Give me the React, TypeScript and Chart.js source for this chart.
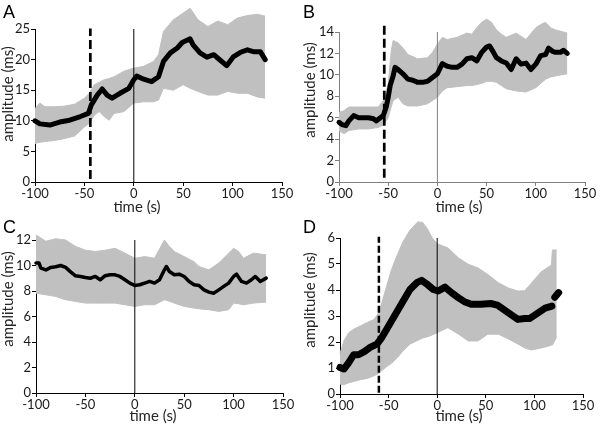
import React, { useEffect, useRef } from "react";
import { Chart, registerables } from "chart.js";

Chart.register(...registerables);
Chart.defaults.font.family = "Lato, 'Open Sans', sans-serif";

// ---------- Panel A ----------
const aMeanT = [-100, -95, -85, -75, -65, -54, -46, -43, -37, -32, -27, -22, -14, -5, 0, 3, 10, 18, 25, 30, 37, 44, 49, 57, 60, 67, 74, 81, 86, 94, 101, 108, 115, 121, 128, 133];
const aMean = [10.0, 9.5, 9.3, 9.8, 10.1, 10.7, 11.2, 12.6, 14.2, 15.2, 14.2, 13.7, 14.5, 15.3, 16.7, 17.3, 16.8, 16.4, 17.2, 19.7, 21.1, 21.9, 22.8, 23.4, 22.4, 21.1, 20.4, 20.8, 20.1, 19.0, 20.5, 21.2, 21.6, 21.3, 21.3, 20.0];
const aBandT = [-100, -95, -90, -80, -70, -60, -50, -45, -40, -35, -30, -25, -20, -10, 0, 10, 20, 25, 30, 40, 50, 57, 65, 75, 85, 95, 105, 115, 125, 133];
const aUpper = [12.0, 12.9, 12.3, 12.3, 12.4, 12.7, 13.7, 14.5, 15.9, 16.3, 16.7, 16.9, 17.2, 18.1, 18.6, 18.9, 19.7, 20.8, 24.6, 26.5, 27.6, 28.4, 26.5, 25.4, 26.3, 25.7, 26.8, 27.2, 27.4, 27.1];
const aLower = [6.3, 6.5, 6.6, 6.8, 7.1, 7.5, 9.0, 9.6, 10.9, 11.5, 10.7, 10.1, 11.2, 11.5, 12.9, 13.1, 13.1, 13.4, 15.3, 15.0, 15.9, 15.3, 14.8, 14.2, 14.2, 14.8, 14.5, 14.5, 13.9, 13.7];
const aEventT = -44;
const aEventSpan = [0.5, 25.1];

// ---------- Panel B ----------
const bMeanT = [-100, -97, -93, -90, -85, -80, -75, -70, -65, -62, -58, -55, -52, -50, -48, -45, -43, -40, -35, -30, -25, -20, -15, -10, -5, 0, 5, 10, 15, 20, 25, 30, 35, 40, 45, 50, 53, 57, 60, 65, 70, 75, 80, 85, 90, 95, 100, 105, 110, 113, 117, 120, 125, 128, 132];
const bMean = [5.57, 5.36, 5.26, 5.7, 6.2, 6.0, 6.0, 6.0, 5.9, 5.7, 6.0, 6.2, 7.0, 7.9, 9.0, 9.9, 10.7, 10.5, 10.1, 9.6, 9.5, 9.3, 9.3, 9.4, 9.75, 10.1, 11.05, 10.8, 10.7, 10.7, 11.0, 11.5, 11.6, 11.3, 12.1, 12.6, 12.7, 12.1, 11.6, 11.3, 11.1, 10.5, 11.5, 11.0, 11.1, 10.5, 11.0, 11.8, 11.9, 12.5, 12.2, 12.1, 12.1, 12.3, 12.0];
const bBandT = [-100, -95, -90, -80, -70, -60, -55, -50, -47, -45, -40, -35, -30, -20, -10, -5, 0, 5, 10, 20, 30, 35, 40, 45, 50, 55, 60, 65, 70, 80, 90, 100, 105, 110, 115, 120, 132];
const bUpper = [6.5, 6.65, 7.0, 7.0, 7.0, 7.0, 7.6, 9.1, 12.2, 13.2, 13.0, 12.5, 11.9, 11.5, 11.6, 12.1, 12.85, 13.5, 13.3, 13.5, 13.9, 13.8, 14.4, 14.9, 15.2, 14.9, 14.2, 13.8, 13.5, 13.9, 13.3, 14.4, 14.7, 14.9, 14.4, 14.2, 13.9];
const bLower = [4.8, 4.5, 4.8, 4.95, 4.95, 5.1, 5.3, 6.0, 7.0, 7.6, 7.9, 7.3, 7.1, 7.1, 7.3, 7.6, 7.9, 8.5, 8.8, 8.9, 9.0, 9.0, 9.1, 9.2, 9.4, 9.4, 9.3, 9.0, 8.7, 8.5, 8.4, 8.8, 9.2, 9.6, 9.8, 9.9, 10.1];
const bEventT = -54;
const bEventSpan = [0.4, 14.7];

// ---------- Panel C ----------
const cMeanT = [-100, -97, -95, -90, -85, -80, -75, -70, -65, -60, -55, -50, -45, -40, -35, -30, -25, -20, -15, -10, -5, 0, 5, 10, 15, 20, 25, 30, 32, 35, 40, 45, 50, 55, 60, 65, 70, 75, 80, 85, 90, 95, 100, 103, 108, 113, 118, 122, 127, 133];
const cMean = [10.2, 10.2, 9.8, 9.65, 9.85, 9.9, 10.0, 9.85, 9.5, 9.19, 9.14, 9.06, 9.0, 9.14, 8.88, 9.2, 9.27, 9.27, 9.14, 8.88, 8.62, 8.43, 8.49, 8.62, 8.75, 8.62, 8.88, 9.66, 9.92, 9.53, 9.27, 9.32, 9.14, 8.75, 8.49, 8.43, 8.09, 7.91, 7.83, 8.09, 8.36, 8.62, 9.14, 9.32, 8.75, 8.62, 8.88, 9.14, 8.75, 9.01];
const cBandT = [-100, -90, -80, -70, -60, -50, -40, -30, -20, -10, 0, 10, 20, 30, 35, 40, 50, 60, 65, 75, 85, 95, 100, 105, 110, 120, 133];
const cUpper = [12.4, 11.9, 12.1, 12.0, 11.5, 11.2, 11.1, 11.2, 11.35, 10.97, 10.57, 10.7, 10.57, 12.0, 11.5, 11.1, 10.7, 10.3, 9.92, 9.66, 10.2, 10.97, 11.35, 11.1, 10.57, 10.97, 10.84];
const cLower = [7.83, 7.7, 7.57, 7.31, 7.18, 7.05, 7.05, 7.05, 7.05, 6.92, 6.79, 6.92, 6.92, 7.31, 7.2, 7.05, 6.79, 6.66, 6.6, 6.53, 6.4, 6.53, 7.05, 7.0, 6.92, 7.05, 7.13];

// ---------- Panel D ----------
const dMeanT = [-100, -96, -91, -86, -81, -75, -69, -62, -57, -52, -47, -41, -35, -28, -21, -16, -11, -4, 1, 8, 15, 22, 28, 35, 45, 55, 62, 73, 83, 90, 95, 103, 111, 118, 119.5, 121, 125];
const dMean = [1.02, 0.96, 1.21, 1.51, 1.51, 1.63, 1.79, 1.92, 2.17, 2.49, 2.81, 3.19, 3.58, 4.02, 4.28, 4.37, 4.24, 4.02, 3.96, 4.11, 3.89, 3.70, 3.55, 3.45, 3.45, 3.48, 3.42, 3.13, 2.87, 2.9, 2.9, 3.1, 3.3, 3.38, null, 3.72, 3.9];
const dBandT = [-100, -96, -91, -86, -79, -72, -65, -60, -57, -52, -47, -41, -35, -28, -20, -15, -10, -5, 0, 11, 22, 32, 42, 52, 63, 73, 83, 90, 97, 107, 115, 117.5, 118.5, 123];
const dUpper = [1.55, 2.04, 2.36, 2.49, 2.62, 2.75, 2.87, 3.13, 3.51, 4.15, 4.79, 5.36, 5.87, 6.3, 6.62, 6.6, 6.35, 6.0, 5.78, 5.62, 5.23, 4.99, 4.85, 4.6, 4.28, 4.08, 3.96, 3.97, 4.27, 4.7, 4.9, 4.95, 5.54, 5.54];
const dLower = [0.38, 0.36, 0.43, 0.48, 0.55, 0.6, 0.7, 0.8, 0.9, 1.05, 1.18, 1.4, 1.66, 1.92, 2.06, 2.15, 2.2, 2.27, 2.36, 2.55, 2.3, 2.04, 2.04, 2.3, 2.3, 2.12, 1.92, 1.77, 1.69, 1.77, 1.85, 1.88, 1.88, 2.2];
const dEventT = -60;
const dEventSpan = [0.05, 6.05];

// ---------- shared ----------
const xTicks = { min: -100, max: 150, step: 50 };
const xTitle = "time (s)";
const yTitle = "amplitude (ms)";

type Panel = {
  letter: string;
  left: number;
  top: number;
  meanT: number[];
  mean: (number | null)[];
  bandT: number[];
  upper: number[];
  lower: number[];
  eventT: number | null;
  eventSpan: number[] | null;
  yMax: number;
  yStep: number;
  yW: number;
  padR: number;
  padT: number;
  xH: number;
  xTitlePos: number[];
  yTitlePos: number[];
  axisColor: string;
  zeroColor: string;
  meanWidth: number;
  dash: number[];
  dashWidth: number;
};

const panels: Panel[] = [
  { letter: "A", left: 0, top: 0, meanT: aMeanT, mean: aMean, bandT: aBandT, upper: aUpper, lower: aLower, eventT: aEventT, eventSpan: aEventSpan, yMax: 25, yStep: 5, yW: 35, padR: 18, padT: 29, xH: 32, xTitlePos: [137, 207], yTitlePos: [8, 94], axisColor: "#000", zeroColor: "#000", meanWidth: 5, dash: [9, 4], dashWidth: 2.7 },
  { letter: "B", left: 300, top: 0, meanT: bMeanT, mean: bMean, bandT: bBandT, upper: bUpper, lower: bLower, eventT: bEventT, eventSpan: bEventSpan, yMax: 14, yStep: 2, yW: 39, padR: 15, padT: 32, xH: 32, xTitlePos: [159, 207], yTitlePos: [10, 90], axisColor: "#808080", zeroColor: "#808080", meanWidth: 5, dash: [9, 4], dashWidth: 2.7 },
  { letter: "C", left: 0, top: 215, meanT: cMeanT, mean: cMean, bandT: cBandT, upper: cUpper, lower: cLower, eventT: null, eventSpan: null, yMax: 12, yStep: 2, yW: 36, padR: 17, padT: 25, xH: 36, xTitlePos: [153, 201], yTitlePos: [8, 84], axisColor: "#000", zeroColor: "#000", meanWidth: 3.5, dash: [9, 4], dashWidth: 2.7 },
  { letter: "D", left: 300, top: 215, meanT: dMeanT, mean: dMean, bandT: dBandT, upper: dUpper, lower: dLower, eventT: dEventT, eventSpan: dEventSpan, yMax: 6, yStep: 1, yW: 40, padR: 17, padT: 23, xH: 35, xTitlePos: [159, 201], yTitlePos: [10, 85], axisColor: "#000", zeroColor: "#000", meanWidth: 7, dash: [7, 3], dashWidth: 2.5 },
];

const BAND = "#c0c0c0";

const pts = (xs: number[], ys: (number | null)[]) => xs.map((x, i) => ({ x, y: ys[i] }));

// lets the band fill extend beyond the plot area like in the original
const unclipPlugin = {
  id: "unclipFill",
  beforeDatasetsDraw(chart: any) {
    chart.$savedArea = chart.chartArea;
    chart.chartArea = { ...chart.chartArea, top: 0, left: 0, right: chart.width, bottom: chart.height };
  },
  afterDatasetsDraw(chart: any) {
    if (chart.$savedArea) chart.chartArea = chart.$savedArea;
  },
};

const titlePlugin = {
  id: "panelTitles",
  afterDraw(chart: any, _args: any, opts: any) {
    const ctx = chart.ctx;
    ctx.save();
    ctx.fillStyle = "#262626";
    ctx.font = "15px Lato, 'Open Sans', sans-serif";
    ctx.textAlign = "center";
    ctx.textBaseline = "middle";
    ctx.fillText(opts.xText, opts.xPos[0], opts.xPos[1]);
    ctx.translate(opts.yPos[0], opts.yPos[1]);
    ctx.rotate(-Math.PI / 2);
    ctx.fillText(opts.yText, 0, 0);
    ctx.restore();
  },
};

function makeConfig(p: Panel): any {
  const datasets: any[] = [
    {
      data: pts(p.meanT, p.mean),
      borderColor: "#000",
      borderWidth: p.meanWidth,
      pointRadius: 0,
      borderCapStyle: "round",
      borderJoinStyle: "round",
      spanGaps: false,
      fill: false,
      order: 0,
      clip: false,
    },
  ];
  if (p.eventT !== null && p.eventSpan) {
    datasets.push({
      data: p.eventSpan.map((y) => ({ x: p.eventT, y })),
      borderColor: "#000",
      borderWidth: p.dashWidth,
      borderDash: p.dash,
      pointRadius: 0,
      fill: false,
      order: 1,
      clip: false,
    });
  }
  datasets.push({
    data: [
      { x: 0, y: 0 },
      { x: 0, y: p.yMax },
    ],
    borderColor: p.zeroColor,
    borderWidth: 1,
    pointRadius: 0,
    fill: false,
    order: 2,
  });
  datasets.push({
    data: pts(p.bandT, p.upper),
    borderColor: BAND,
    borderWidth: 1,
    backgroundColor: BAND,
    pointRadius: 0,
    fill: "+1",
    order: 3,
    clip: false,
  });
  datasets.push({
    data: pts(p.bandT, p.lower),
    borderColor: BAND,
    borderWidth: 1,
    backgroundColor: BAND,
    pointRadius: 0,
    fill: false,
    order: 4,
    clip: false,
  });

  const tickFont = { size: 13, family: "Lato, 'Open Sans', sans-serif" };
  return {
    type: "line",
    data: { datasets },
    options: {
      animation: false,
      responsive: false,
      devicePixelRatio: 1,
      events: [],
      layout: { padding: { top: p.padT, right: p.padR, left: 0, bottom: 0 } },
      plugins: {
        legend: { display: false },
        tooltip: { enabled: false },
        panelTitles: { xText: xTitle, yText: yTitle, xPos: p.xTitlePos, yPos: p.yTitlePos },
      },
      scales: {
        x: {
          type: "linear",
          min: xTicks.min,
          max: xTicks.max,
          ticks: { stepSize: xTicks.step, color: "#1a1a1a", font: tickFont, padding: 0, maxRotation: 0 },
          grid: { drawOnChartArea: false, drawTicks: true, tickLength: 4, color: p.axisColor },
          border: { display: true, color: p.axisColor, width: 1 },
          afterFit: (s: any) => {
            s.height = p.xH;
          },
        },
        y: {
          type: "linear",
          min: 0,
          max: p.yMax,
          ticks: { stepSize: p.yStep, color: "#1a1a1a", font: tickFont, padding: 1 },
          grid: { drawOnChartArea: false, drawTicks: true, tickLength: 4, color: p.axisColor },
          border: { display: true, color: p.axisColor, width: 1 },
          afterFit: (s: any) => {
            s.width = p.yW;
          },
        },
      },
    },
    plugins: [unclipPlugin, titlePlugin],
  };
}

export default function App() {
  const refs = useRef<(HTMLCanvasElement | null)[]>([]);

  useEffect(() => {
    const charts = panels.map((p, i) => new Chart(refs.current[i] as HTMLCanvasElement, makeConfig(p)));
    return () => charts.forEach((c) => c.destroy());
  }, []);

  return (
    <div style={{ position: "fixed", left: 0, top: 0, width: 600, height: 429, background: "#fff", overflow: "hidden" }}>
      {panels.map((p, i) => (
        <React.Fragment key={p.letter}>
          <canvas
            ref={(el) => {
              refs.current[i] = el;
            }}
            width={300}
            height={214}
            style={{ position: "absolute", left: p.left, top: p.top, width: 300, height: 214 }}
          />
          <div
            style={{
              position: "absolute",
              left: p.left + 3,
              top: p.top + 3,
              fontFamily: "'Liberation Sans', Arial, sans-serif",
              fontSize: 18,
              lineHeight: "18px",
              color: "#000",
            }}
          >
            {p.letter}
          </div>
        </React.Fragment>
      ))}
    </div>
  );
}
